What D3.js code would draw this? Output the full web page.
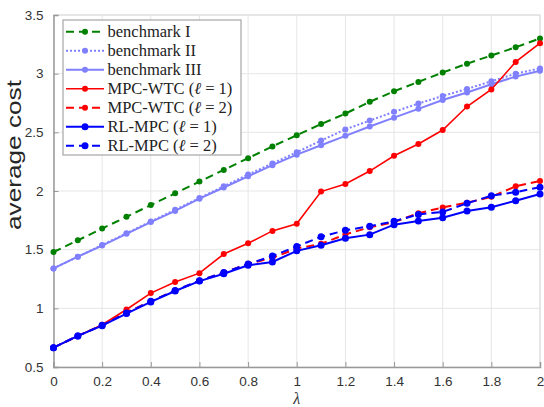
<!DOCTYPE html>
<html><head><meta charset="utf-8">
<script src="https://cdn.jsdelivr.net/npm/d3@7"></script>
<style>body{margin:0;background:#fff;} svg{display:block;}</style>
</head><body>
<svg id="chart" width="544" height="407"></svg>
<script>
const lambdas = [0,0.1,0.2,0.3,0.4,0.5,0.6,0.7,0.8,0.9,1.0,1.1,1.2,1.3,1.4,1.5,1.6,1.7,1.8,1.9,2.0];
const benchmarkI   = [1.48,1.58,1.68,1.78,1.88,1.98,2.08,2.18,2.28,2.38,2.475,2.57,2.66,2.76,2.85,2.93,3.01,3.085,3.155,3.225,3.30];
const benchmarkII  = [1.34,1.44,1.54,1.64,1.74,1.84,1.94,2.04,2.14,2.235,2.33,2.43,2.525,2.60,2.675,2.745,2.81,2.87,2.935,3.0,3.045];
const benchmarkIII = [1.34,1.44,1.535,1.635,1.735,1.83,1.935,2.03,2.125,2.22,2.31,2.39,2.47,2.55,2.625,2.70,2.775,2.84,2.91,2.975,3.025];
const mpcWtc1 = [0.665,0.765,0.86,0.99,1.13,1.225,1.30,1.463,1.554,1.66,1.72,1.995,2.06,2.17,2.30,2.40,2.52,2.72,2.865,3.10,3.26];
const mpcWtc2 = [0.665,0.765,0.855,0.965,1.06,1.15,1.235,1.305,1.38,1.43,1.51,1.55,1.63,1.69,1.735,1.81,1.86,1.90,1.95,2.04,2.085];
const rlMpc1  = [0.665,0.765,0.852,0.955,1.055,1.148,1.232,1.295,1.367,1.395,1.49,1.538,1.597,1.628,1.713,1.745,1.772,1.83,1.862,1.917,1.974];
const rlMpc2  = [0.665,0.765,0.855,0.96,1.06,1.152,1.236,1.305,1.378,1.446,1.528,1.61,1.665,1.70,1.742,1.80,1.822,1.895,1.96,1.99,2.032];
const xTicks = [0,0.2,0.4,0.6,0.8,1,1.2,1.4,1.6,1.8,2];
const yTicks = [0.5,1,1.5,2,2.5,3,3.5];

const series = [
  {pre:"benchmark I", l:null, values:benchmarkI, color:"#008000", dash:"8,5", width:2, r:3},
  {pre:"benchmark II", l:null, values:benchmarkII, color:"#8080ff", dash:"2,2", width:2, r:3},
  {pre:"benchmark III", l:null, values:benchmarkIII, color:"#8080ff", dash:null, width:2, r:3},
  {pre:"MPC-WTC (", l:"1", values:mpcWtc1, color:"#ff0000", dash:null, width:1.6, r:3},
  {pre:"MPC-WTC (", l:"2", values:mpcWtc2, color:"#ff0000", dash:"8,5", width:2, r:3},
  {pre:"RL-MPC (", l:"1", values:rlMpc1, color:"#0000ff", dash:null, width:2, r:3.5},
  {pre:"RL-MPC (", l:"2", values:rlMpc2, color:"#0000ff", dash:"8,5", width:2, r:3.5}
];

const svg = d3.select("#chart");
const L = 53.5, R = 540, T = 15, B = 367;
const x = d3.scaleLinear().domain([0,2]).range([L,R]);
const y = d3.scaleLinear().domain([0.5,3.5]).range([B,T]);

// grid
const g = svg.append("g");
g.selectAll(".gx").data(xTicks).join("line")
  .attr("x1",d=>x(d)).attr("x2",d=>x(d)).attr("y1",T).attr("y2",B)
  .attr("stroke","#e6e6e6").attr("stroke-width",1);
g.selectAll(".gy").data(yTicks).join("line")
  .attr("y1",d=>y(d)).attr("y2",d=>y(d)).attr("x1",L).attr("x2",R)
  .attr("stroke","#e6e6e6").attr("stroke-width",1);

// box top/right
svg.append("line").attr("x1",L).attr("x2",R).attr("y1",T).attr("y2",T).attr("stroke","#d9d9d9");
svg.append("line").attr("x1",R).attr("x2",R).attr("y1",T).attr("y2",B).attr("stroke","#d9d9d9");

// axes
const xAxis = d3.axisBottom(x).tickValues(xTicks).tickSize(-5).tickPadding(9).tickFormat(d3.format("~g"));
const yAxis = d3.axisLeft(y).tickValues(yTicks).tickSize(-5).tickPadding(10).tickFormat(d3.format("~g"));
const ax = svg.append("g").attr("transform",`translate(0,${B})`).call(xAxis);
const ay = svg.append("g").attr("transform",`translate(${L},0)`).call(yAxis);
[ax,ay].forEach(a=>{
  a.select(".domain").attr("stroke","#999").attr("stroke-width",1.5);
  a.selectAll(".tick line").attr("stroke","#999");
  a.selectAll(".tick text").attr("fill","#333").style("font-family","'Liberation Sans', Arial, sans-serif").style("font-size","13.5px");
});

// lines
const line = d3.line().x((d,i)=>x(lambdas[i])).y(d=>y(d));
const plot = svg.append("g");
series.forEach(s=>{
  plot.append("path").attr("d",line(s.values)).attr("fill","none")
    .attr("stroke",s.color).attr("stroke-width",s.width)
    .attr("stroke-dasharray",s.dash);
  plot.selectAll(null).data(s.values).join("circle")
    .attr("cx",(d,i)=>x(lambdas[i])).attr("cy",d=>y(d)).attr("r",s.r).attr("fill",s.color);
});

// labels
svg.append("text").attr("x",x(1)).attr("y",404).attr("text-anchor","middle")
  .style("font-family","'Liberation Serif', 'Times New Roman', serif").style("font-style","italic").style("font-size","16px")
  .attr("fill","#333").text("λ");
svg.append("text").attr("transform",`translate(21,155) rotate(-90)`).attr("text-anchor","middle")
  .attr("textLength",150).attr("lengthAdjust","spacingAndGlyphs")
  .style("font-family","'Liberation Sans', Arial, sans-serif").style("font-size","21px")
  .attr("fill","#262626").text("average cost");

// legend
const lg = svg.append("g");
lg.append("rect").attr("x",63).attr("y",20).attr("width",178).attr("height",135)
  .attr("fill","#fff").attr("stroke","#a6a6a6").attr("stroke-width",1.2);
series.forEach((s,i)=>{
  const yy = 31.7 + i*19;
  lg.append("line").attr("x1",66).attr("x2",104).attr("y1",yy).attr("y2",yy)
    .attr("stroke",s.color).attr("stroke-width",s.width).attr("stroke-dasharray",s.dash);
  lg.append("circle").attr("cx",85).attr("cy",yy).attr("r",s.r).attr("fill",s.color);
  const t = lg.append("text").attr("x",107.5).attr("y",yy+5.5)
    .style("font-family","'Liberation Serif', 'Times New Roman', serif").style("font-size","16.5px").attr("fill","#222");
  t.append("tspan").text(s.pre);
  if (s.l) {
    t.append("tspan").style("font-style","italic").text("ℓ");
    t.append("tspan").text(" = " + s.l + ")");
  }
});
</script>
</body></html>
